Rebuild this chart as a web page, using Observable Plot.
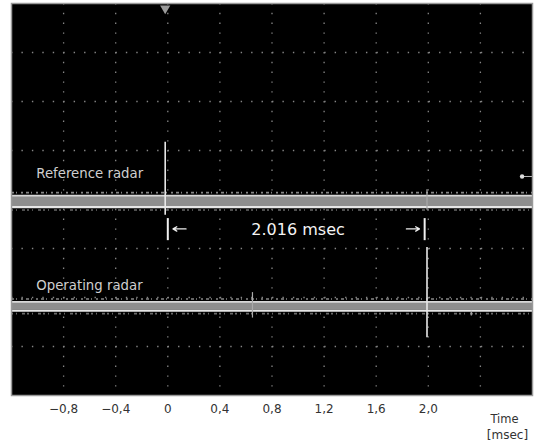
<!DOCTYPE html>
<html>
<head>
<meta charset="utf-8">
<script src="https://cdn.jsdelivr.net/npm/d3@7"></script>
<script src="https://cdn.jsdelivr.net/npm/@observablehq/plot@0.6"></script>
<style>
  html, body { margin: 0; padding: 0; background: #fff; }
  #chart svg { display: block; }
</style>
</head>
<body>
<div id="chart"></div>
<script>
// ---- data (time in msec, level in screen divisions) ----
const tickValues = [-0.8, -0.4, 0, 0.4, 0.8, 1.2, 1.6, 2.0];
const gridX = [-0.8, -0.4, 0, 0.4, 0.8, 1.2, 1.6, 2.0, 2.4];
const gridY = [-3, -2, -1, 0, 1, 2, 3];
const traceNames = ["Reference radar", "Operating radar"];
const traceTop = [0.08, -2.09];        // bright upper edge of each trace band
const traceBottom = [-0.155, -2.27];   // bright lower edge
const traceLabelY = [0.53, -1.75];
const pulseTime = [-0.02, 1.99];       // pulse positions
const pulseHigh = [1.17, -0.98];
const pulseLow = [-0.32, -2.82];
const markerTime = [0.0, 1.972];       // |<-  ->| delay markers
const glitchTime = [0.65, 2.33, 1.99];
const glitchHigh = [-1.90, -2.28, 0.2];
const glitchLow = [-2.42, -2.38, -0.22];
const delayLabel = "2.016 msec";

const xDomain = [-1.2, 2.8];
const yDomain = [-4, 4];

const bands = traceNames.map((n, i) => ({name: n, top: traceTop[i], bottom: traceBottom[i], ly: traceLabelY[i]}));
const pulses = pulseTime.map((t, i) => ({t, hi: pulseHigh[i], lo: pulseLow[i]}));
const glitches = glitchTime.map((t, i) => ({t, hi: glitchHigh[i], lo: glitchLow[i]}));
const ends = xDomain;

const fmt = v => (v === 0 ? "0" : (v < 0 ? "\u2212" : "") + Math.abs(v).toFixed(1).replace(".", ","));

const bandArea = bands.flatMap(b => ends.map(x => ({name: b.name, x, y1: b.top - 0.01, y2: b.bottom + 0.01})));
const arrows = [
  {x1: markerTime[0] + 0.14, x2: markerTime[0] + 0.04},
  {x1: markerTime[1] - 0.14, x2: markerTime[1] - 0.04}
];

const chart = Plot.plot({
  width: 539,
  height: 447,
  marginLeft: 11,
  marginRight: 7,
  marginTop: 3,
  marginBottom: 52,
  style: {background: "#fff", fontFamily: "DejaVu Sans, Arial, sans-serif"},
  x: {domain: xDomain},
  y: {domain: yDomain, axis: null},
  marks: [
    Plot.frame({fill: "#000"}),
    // dotted graticule
    Plot.ruleX(gridX, {stroke: "#858585", strokeWidth: 1.3, strokeDasharray: "1.4 8.4"}),
    Plot.ruleY(gridY, {stroke: "#858585", strokeWidth: 1.3, strokeDasharray: "1.4 9.04"}),
    // noise haze around traces
    Plot.ruleY(bands, {y: d => d.top + 0.06, stroke: "#888", strokeWidth: 1.6, strokeDasharray: "3 2 1 4 2 3"}),
    Plot.ruleY(bands, {y: d => d.bottom - 0.06, stroke: "#6a6a6a", strokeWidth: 1.6, strokeDasharray: "2 3 1 5 3 2"}),
    // trace bands
    Plot.areaY(bandArea, {x: "x", y1: "y1", y2: "y2", z: "name", fill: "#8e8e8e"}),
    Plot.ruleY(bands, {y: "top", stroke: "#d8d8d8", strokeWidth: 1.8}),
    Plot.ruleY(bands, {y: "bottom", stroke: "#e6e6e6", strokeWidth: 2.2}),
    // pulses
    Plot.ruleX(pulses, {x: "t", y1: "lo", y2: "hi", stroke: "#e8e8e8", strokeWidth: 1.6}),
    Plot.ruleX(glitches, {x: "t", y1: "lo", y2: "hi", stroke: "#aaa", strokeWidth: 1.2}),
    // delay markers
    Plot.ruleX(markerTime, {y1: -0.39, y2: -0.84, stroke: "#f0f0f0", strokeWidth: 2}),
    Plot.arrow(arrows, {x1: "x1", x2: "x2", y1: -0.6, y2: -0.6, stroke: "#eee", strokeWidth: 1.3, headLength: 6}),
    Plot.text([delayLabel], {x: 1.0, y: -0.62, text: d => d, fill: "#f4f4f4", fontSize: 16}),
    // trace labels
    Plot.text(bands, {x: -1.01, y: "ly", text: "name", textAnchor: "start", fill: "#cfcfcf", fontSize: 13.3}),
    // trigger marker and level marker
    Plot.dot([0], {x: d => d - 0.02, y: 3.9, symbol: "triangle", rotate: 180, r: 3.8, fill: "#9a9a9a"}),
    Plot.ruleY([0.47], {x1: 2.72, x2: 2.8, stroke: "#bbb", strokeWidth: 1}),
    Plot.dot([0.47], {x: 2.72, y: d => d, r: 2.2, fill: "#ddd"}),
    Plot.frame({stroke: "#9a9a9a", strokeWidth: 1.5}),
    // axis
    Plot.axisX({ticks: tickValues, tickFormat: fmt, tickSize: 0, tickPadding: 9, fontSize: 12, color: "#333", label: null}),
    Plot.text(["Time"], {frameAnchor: "bottom-right", textAnchor: "middle", dx: -28, dy: 27, fill: "#333", fontSize: 11.5}),
    Plot.text(["[msec]"], {frameAnchor: "bottom-right", textAnchor: "middle", dx: -25, dy: 43, fill: "#333", fontSize: 12})
  ]
});
document.getElementById("chart").append(chart);
</script>
</body>
</html>
